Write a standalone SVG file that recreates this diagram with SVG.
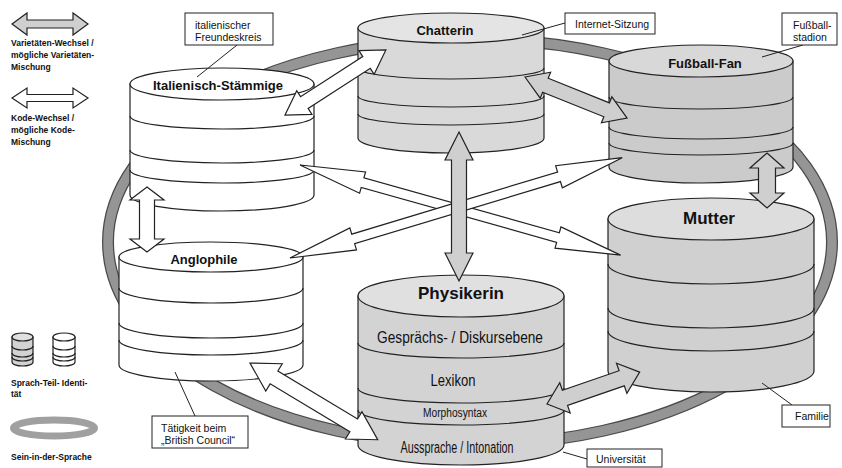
<svg xmlns="http://www.w3.org/2000/svg" width="842" height="468" viewBox="0 0 842 468">
<style>
.bg{fill:#fff}
.body{stroke:#222;stroke-width:1.2}
.band{fill:none;stroke:#222;stroke-width:1.2}
.w{fill:#fff}
.gC{fill:#d9d9d9}.gCt{fill:#e4e4e4}
.gF{fill:#cbcbcb}.gFt{fill:#d8d8d8}
.gM{fill:#d0d0d0}.gMt{fill:#dddddd}
.gP{fill:#d3d3d3}.gPt{fill:#e0e0e0}
.lbl{font-family:"Liberation Sans",Arial,sans-serif;font-weight:bold;text-anchor:middle;fill:#111}
.inner{font-family:"Liberation Sans",Arial,sans-serif;text-anchor:middle;fill:#111}
.call{font-family:"Liberation Sans",Arial,sans-serif;font-size:10.5px;fill:#111}
.box{fill:#fff;stroke:#222;stroke-width:1}
.lead{stroke:#222;stroke-width:1;fill:none}
.arW{fill:#fff;stroke:#222;stroke-width:1.2;stroke-linejoin:miter}
.arG{fill:#cfcfcf;stroke:#222;stroke-width:1.2;stroke-linejoin:miter}
.leg{font-family:"Liberation Sans",Arial,sans-serif;font-weight:bold;font-size:8.5px;fill:#111}
.ringO{fill:none;stroke:#4a4a4a;stroke-width:12}
.ringI{fill:none;stroke:#959595;stroke-width:9.5}
</style>
<rect class="bg" x="0" y="0" width="842" height="468"/>

<g id="ring">
<ellipse class="ringO" cx="470" cy="242" rx="362" ry="203"/>
<ellipse class="ringI" cx="470" cy="242" rx="362" ry="203"/>
</g>

<g id="italienisch">
<path class="body w" d="M130,84 V195 A92,16 0 0 0 314,195 V84 Z"/>
<path class="band" d="M130,116 A92,13 0 0 0 314,116 M130,150 A92,13 0 0 0 314,150 M130,170 A92,13 0 0 0 314,170"/>
<ellipse class="body w" cx="222" cy="84" rx="92" ry="16"/>
<text class="lbl" x="218" y="90" font-size="13">Italienisch-Stämmige</text>
</g>

<g id="chatterin">
<path class="body gC" d="M358,28 V138 A93,15 0 0 0 544,138 V28 Z"/>
<path class="band" d="M358,68 A93,11 0 0 0 544,68 M358,96 A93,11 0 0 0 544,96 M358,114 A93,11 0 0 0 544,114"/>
<ellipse class="body gCt" cx="451" cy="28" rx="93" ry="15"/>
<text class="lbl" x="445" y="35" font-size="13">Chatterin</text>
</g>

<g id="fussball">
<path class="body gF" d="M609,61 V167 A92,16 0 0 0 793,167 V61 Z"/>
<path class="band" d="M609,97 A92,12 0 0 0 793,97 M609,127 A92,12 0 0 0 793,127 M609,143 A92,12 0 0 0 793,143"/>
<ellipse class="body gFt" cx="701" cy="61" rx="92" ry="16"/>
<text class="lbl" x="705" y="68" font-size="13">Fußball-Fan</text>
</g>

<g id="mutter">
<path class="body gM" d="M608,219 V371 A103,21 0 0 0 814,371 V219 Z"/>
<path class="band" d="M608,264 A103,20 0 0 0 814,264 M608,308 A103,20 0 0 0 814,308 M608,331 A103,20 0 0 0 814,331"/>
<ellipse class="body gMt" cx="711" cy="219" rx="103" ry="21"/>
<text class="lbl" x="709" y="224" font-size="17">Mutter</text>
</g>

<g id="anglophile">
<path class="body w" d="M119,257 V365 A92,16 0 0 0 303,365 V257 Z"/>
<path class="band" d="M119,288 A92,15 0 0 0 303,288 M119,323 A92,15 0 0 0 303,323 M119,340 A92,15 0 0 0 303,340"/>
<ellipse class="body w" cx="211" cy="257" rx="92" ry="15"/>
<text class="lbl" x="204" y="264" font-size="13">Anglophile</text>
</g>

<g id="physikerin">
<path class="body gP" d="M358,296 V445 A103,20 0 0 0 564,445 V296 Z"/>
<path class="band" d="M358,343 A103,15 0 0 0 564,343 M358,388 A103,15 0 0 0 564,388 M358,410 A103,15 0 0 0 564,410"/>
<ellipse class="body gPt" cx="461" cy="296" rx="103" ry="21"/>
<text class="lbl" x="461" y="299" font-size="17">Physikerin</text>
<text class="inner" x="460" y="343" font-size="17" textLength="166" lengthAdjust="spacingAndGlyphs">Gesprächs- / Diskursebene</text>
<text class="inner" x="453" y="386" font-size="17" textLength="45" lengthAdjust="spacingAndGlyphs">Lexikon</text>
<text class="inner" x="455" y="417" font-size="12" textLength="64" lengthAdjust="spacingAndGlyphs">Morphosyntax</text>
<text class="inner" x="457" y="453" font-size="16" textLength="113" lengthAdjust="spacingAndGlyphs">Aussprache / Intonation</text>
</g>

<g id="connectors">
<polygon class="arW" transform="translate(300,165) rotate(15.7)" points="0,0 65,-11 65,-5 268,-5 268,-11 333,0 268,11 268,5 65,5 65,11"/>
<polygon class="arW" transform="translate(290,258) rotate(-16.8)" points="0,0 66,-11.5 66,-5 281,-5 281,-11.5 347,0 281,11.5 281,5 66,5 66,11.5"/>
<polygon class="arW" transform="translate(285,115) rotate(-32.8)" points="0,0 23,-14 23,-7 97,-7 97,-14 120,0 97,14 97,7 23,7 23,14"/>
<polygon class="arW" transform="translate(147,187) rotate(90)" points="0,0 13,-17 13,-7.5 52,-7.5 52,-17 65,0 52,17 52,7.5 13,7.5 13,17"/>
<polygon class="arW" transform="translate(250,363) rotate(31)" points="0,0 28,-16 28,-7.5 121,-7.5 121,-16 149,0 121,16 121,7.5 28,7.5 28,16"/>
<polygon class="arG" transform="translate(459,132) rotate(90)" points="0,0 28,-14 28,-7.5 121,-7.5 121,-14 149,0 121,14 121,7.5 28,7.5 28,14"/>
<polygon class="arG" transform="translate(525,77) rotate(21.9)" points="0,0 22,-14 22,-7.5 88,-7.5 88,-14 110,0 88,14 88,7.5 22,7.5 22,14"/>
<polygon class="arG" transform="translate(767,153) rotate(90)" points="0,0 15,-17 15,-8.5 40,-8.5 40,-17 55,0 40,17 40,8.5 15,8.5 15,17"/>
<polygon class="arG" transform="translate(547,404) rotate(-19)" points="0,0 19,-16 19,-8 79,-8 79,-16 98,0 79,16 79,8 19,8 19,16"/>
</g>

<g id="callout-freundeskreis">
<line class="lead" x1="237" y1="45" x2="197" y2="77"/>
<rect class="box" x="185" y="13" width="88" height="32"/>
<text class="call" x="195" y="29">italienischer</text>
<text class="call" x="195" y="41">Freundeskreis</text>
</g>
<g id="callout-internet">
<line class="lead" x1="565" y1="23" x2="522" y2="35"/>
<rect class="box" x="565" y="13" width="90" height="21"/>
<text class="call" x="575" y="28">Internet-Sitzung</text>
</g>
<g id="callout-stadion">
<line class="lead" x1="803" y1="45" x2="762" y2="57"/>
<rect class="box" x="782" y="13" width="55" height="32"/>
<text class="call" x="793" y="29">Fußball-</text>
<text class="call" x="793" y="41">stadion</text>
</g>
<g id="callout-familie">
<line class="lead" x1="792" y1="405" x2="762" y2="383"/>
<rect class="box" x="782" y="405" width="48" height="22"/>
<text class="call" x="795" y="420">Familie</text>
</g>
<g id="callout-universitaet">
<line class="lead" x1="563" y1="452" x2="587" y2="459"/>
<rect class="box" x="587" y="449" width="75" height="18"/>
<text class="call" x="596" y="463">Universität</text>
</g>
<g id="callout-british">
<line class="lead" x1="195" y1="416" x2="175" y2="372"/>
<rect class="box" x="152" y="416" width="96" height="32"/>
<text class="call" x="161" y="432">Tätigkeit beim</text>
<text class="call" x="161" y="444">„British Council“</text>
</g>

<g id="legend">
<polygon class="arG" points="12,24 27,13 27,20 73,20 73,13 88,24 73,35 73,28 27,28 27,35"/>
<text class="leg" x="11" y="46">Varietäten-Wechsel /</text>
<text class="leg" x="11" y="58">mögliche Varietäten-</text>
<text class="leg" x="11" y="70">Mischung</text>
<polygon class="arW" points="12,98 27,88 27,94.5 73,94.5 73,88 88,98 73,108 73,101.5 27,101.5 27,108"/>
<text class="leg" x="11" y="121">Kode-Wechsel /</text>
<text class="leg" x="11" y="133">mögliche Kode-</text>
<text class="leg" x="11" y="145">Mischung</text>
<path class="body gP" d="M12,337 V362 A10.5,4 0 0 0 33,362 V337 Z"/>
<path class="band" d="M12,346 A10.5,4 0 0 0 33,346 M12,353 A10.5,4 0 0 0 33,353 M12,357 A10.5,4 0 0 0 33,357"/>
<ellipse class="body gPt" cx="22.5" cy="337" rx="10.5" ry="4"/>
<path class="body w" d="M53,337 V362 A11,4 0 0 0 75,362 V337 Z"/>
<path class="band" d="M53,346 A11,4 0 0 0 75,346 M53,353 A11,4 0 0 0 75,353 M53,357 A11,4 0 0 0 75,357"/>
<ellipse class="body w" cx="64" cy="337" rx="11" ry="4"/>
<text class="leg" x="11" y="386">Sprach-Teil- Identi-</text>
<text class="leg" x="11" y="397">tät</text>
<ellipse cx="54" cy="428" rx="40.5" ry="8" fill="none" stroke="#a0a0a0" stroke-width="7"/>
<text class="leg" x="11" y="460">Sein-in-der-Sprache</text>
</g>
</svg>
